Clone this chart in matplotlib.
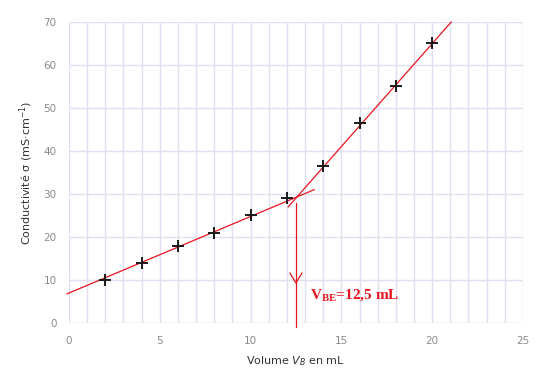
import matplotlib
matplotlib.use("Agg")
import matplotlib.pyplot as plt

# Measured points (volume in mL, conductivity in mS/cm)
volume = [2, 4, 6, 8, 10, 12, 14, 16, 18, 20]
sigma = [10, 14, 18, 21, 25, 29, 36.5, 46.5, 55, 65]

# Hand-drawn fit lines (end points)
fit1_x = [-0.1, 13.5]
fit1_y = [6.8, 31.0]
fit2_x = [12.07, 21.05]
fit2_y = [27.0, 70.0]

v_eq = 12.5
eq_label = r"V$_{\mathregular{BE}}$=12,5 mL"

GRID = "#e0e0f2"
TICK = "#8a8a8a"
RED = "#e8141e"

fig = plt.figure(figsize=(5.36, 3.72), dpi=100)
ax = fig.add_axes([0.1287, 0.1317, 0.847, 0.8092])

ax.set_xlim(0, 25)
ax.set_ylim(0, 70)
ax.set_xticks(range(0, 26, 5))
ax.set_yticks(range(0, 71, 10))
ax.set_xticks(range(0, 26), minor=True)
ax.grid(True, which="major", axis="y", color=GRID, lw=1.0)
ax.grid(True, which="both", axis="x", color=GRID, lw=1.0)
ax.tick_params(which="both", length=0, colors=TICK, labelsize=7.5, pad=9)
for s in ax.spines.values():
    s.set_visible(False)

ax.plot(fit1_x, fit1_y, color=RED, lw=0.9, clip_on=False)
ax.plot(fit2_x, fit2_y, color=RED, lw=0.9, clip_on=False)
ax.plot(volume, sigma, ls="none", marker="+", color="#1a1a1a", ms=9, mew=1.4)

# vertical line down to the equivalence volume, with arrow head
ax.plot([v_eq, v_eq], [28, -1], color=RED, lw=0.9, clip_on=False)
ax.plot([v_eq - 0.33, v_eq, v_eq + 0.33], [11.6, 9.3, 11.6], color=RED, lw=0.9)
ax.text(v_eq + 0.75, 6.4, eq_label, color=RED, fontsize=11, fontweight="bold",
        family="Liberation Serif", va="center", ha="left")

ax.set_xlabel(r"Volume $V_B$ en mL", fontsize=8, color="#333333", labelpad=6)
ax.set_ylabel(r"Conductivité σ (mS·cm$^{-1}$)", fontsize=8, color="#333333", labelpad=6)

fig.savefig("out.png", dpi=100)
